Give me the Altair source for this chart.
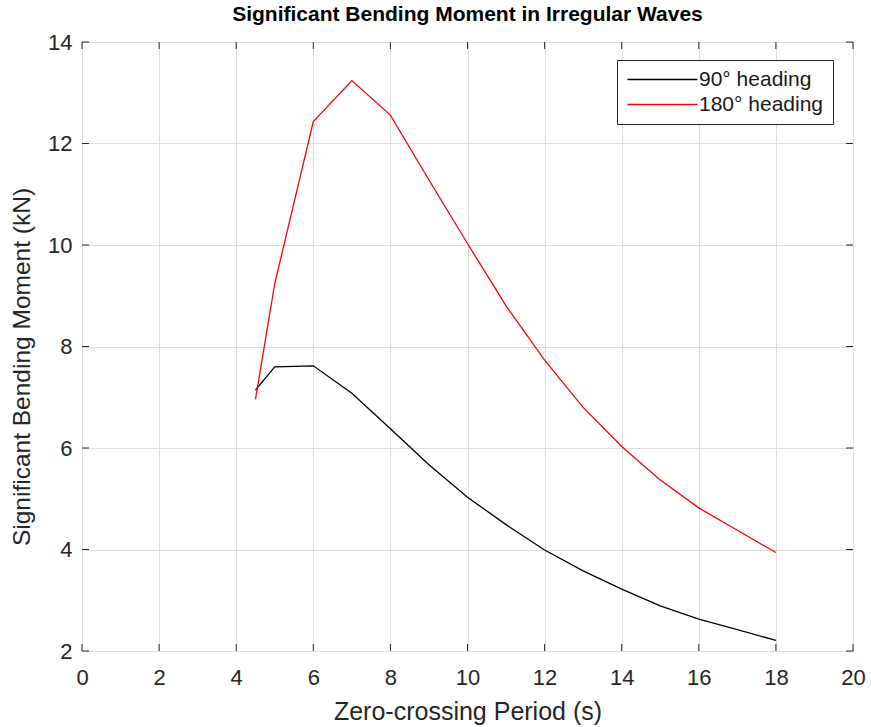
import altair as alt
import pandas as pd

# Data
periods = [4.5, 5, 6, 7, 8, 9, 10, 11, 12, 13, 14, 15, 16, 17, 18]
moment_90 = [7.14, 7.60, 7.62, 7.08, 6.38, 5.67, 5.03, 4.49, 3.99, 3.58, 3.22, 2.89, 2.63, 2.42, 2.21]
moment_180 = [6.96, 9.24, 12.43, 13.24, 12.56, 11.28, 10.03, 8.80, 7.73, 6.80, 6.03, 5.37, 4.82, 4.38, 3.94]
series_names = ["90\u00b0 heading", "180\u00b0 heading"]
series_colors = ["#000000", "#ff0000"]
x_ticks = [0, 2, 4, 6, 8, 10, 12, 14, 16, 18, 20]
y_ticks = [2, 4, 6, 8, 10, 12, 14]

rows = []
for name, vals in zip(series_names, [moment_90, moment_180]):
    for p, v in zip(periods, vals):
        rows.append({"period": p, "moment": v, "series": name})
df = pd.DataFrame(rows)
xt_df = pd.DataFrame({"tick": x_ticks})
yt_df = pd.DataFrame({"tick": y_ticks})

W, H = 771, 609
TL = 7
FONT = "Liberation Sans"
TXT = "#262626"

xscale = alt.Scale(domain=[0, 20], nice=False, zero=False)
yscale = alt.Scale(domain=[2, 14], nice=False, zero=False)

lines = alt.Chart(df).mark_line(strokeWidth=1.3).encode(
    x=alt.X("period:Q", scale=xscale, axis=alt.Axis(
        values=x_ticks, grid=True, gridColor="#dedede", gridWidth=1,
        ticks=False, tickSize=0, domain=False, labelFlush=False,
        labelFontSize=22, labelFont=FONT, labelColor=TXT, labelPadding=16,
        title="Zero-crossing Period (s)", titleFont=FONT, titleFontSize=25,
        titleFontWeight="normal", titleColor=TXT, titleY=68, titleBaseline="alphabetic")),
    y=alt.Y("moment:Q", scale=yscale, axis=alt.Axis(
        values=y_ticks, grid=True, gridColor="#dedede", gridWidth=1,
        ticks=False, tickSize=0, domain=False, labelFlush=False,
        labelFontSize=22, labelFont=FONT, labelColor=TXT, labelPadding=10,
        title="Significant Bending Moment (kN)", titleFont=FONT, titleFontSize=24.5,
        titleFontWeight="normal", titleColor=TXT, titleX=-53, titleY=H / 2 + 20,
        titleAngle=270, titleBaseline="alphabetic", titleAlign="center")),
    color=alt.Color("series:N", sort=series_names,
                    scale=alt.Scale(domain=series_names, range=series_colors),
                    legend=alt.Legend(
                        title=None, orient="none", legendX=535, legendY=18,
                        symbolType="M-5,0H5", symbolSize=196, symbolStrokeWidth=1.3,
                        symbolOffset=26, labelOffset=26,
                        labelFontSize=21, labelFont=FONT, labelColor="#1a1a1a",
                        padding=9, rowPadding=3,
                        strokeColor=TXT, fillColor="white", cornerRadius=0)),
    detail="series:N",
)

# Inward tick marks on all four edges (MATLAB box style)
x_tick_bottom = alt.Chart(xt_df).mark_rule(color=TXT, strokeWidth=1).encode(
    x=alt.X("tick:Q", scale=xscale, axis=None), y=alt.value(H), y2=alt.value(H - TL))
x_tick_top = alt.Chart(xt_df).mark_rule(color=TXT, strokeWidth=1).encode(
    x=alt.X("tick:Q", scale=xscale, axis=None), y=alt.value(0), y2=alt.value(TL))
y_tick_left = alt.Chart(yt_df).mark_rule(color=TXT, strokeWidth=1).encode(
    y=alt.Y("tick:Q", scale=yscale, axis=None), x=alt.value(0), x2=alt.value(TL))
y_tick_right = alt.Chart(yt_df).mark_rule(color=TXT, strokeWidth=1).encode(
    y=alt.Y("tick:Q", scale=yscale, axis=None), x=alt.value(W), x2=alt.value(W - TL))

chart = alt.layer(lines, x_tick_bottom, x_tick_top, y_tick_left, y_tick_right).resolve_axis(
    x="independent", y="independent"
).resolve_scale(x="shared", y="shared").properties(
    width=W, height=H,
    autosize=alt.AutoSizeParams(type="none"),
    padding={"left": 82, "top": 42, "right": 18, "bottom": 76},
    background="white",
    title=alt.Title("Significant Bending Moment in Irregular Waves",
                    font=FONT, fontSize=21, fontWeight="bold", color="black",
                    anchor="middle", frame="group", offset=6),
).configure_view(stroke=TXT, strokeWidth=1)

chart.save("out.html", embed_options={"renderer": "svg", "actions": False})
